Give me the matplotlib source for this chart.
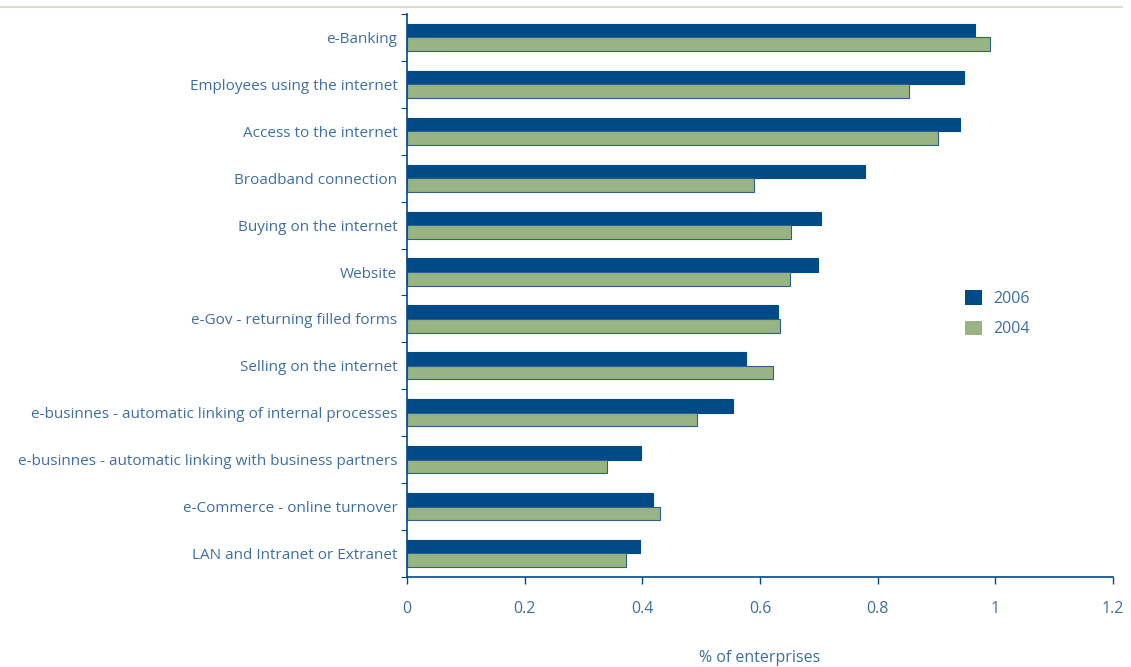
import numpy as np
import matplotlib.pyplot as plt
from matplotlib.lines import Line2D

categories = [
    'e-Banking',
    'Employees using the internet',
    'Access to the internet',
    'Broadband connection',
    'Buying on the internet',
    'Website',
    'e-Gov - returning filled forms',
    'Selling on the internet',
    'e-businnes - automatic linking of internal processes',
    'e-businnes - automatic linking with business partners',
    'e-Commerce - online turnover',
    'LAN and Intranet or Extranet',
]
vals_2006 = [0.965, 0.947, 0.940, 0.778, 0.704, 0.699, 0.631, 0.576, 0.554, 0.398, 0.418, 0.396]
vals_2004 = [0.991, 0.853, 0.903, 0.590, 0.653, 0.651, 0.634, 0.622, 0.493, 0.340, 0.430, 0.372]
xticks = [0, 0.2, 0.4, 0.6, 0.8, 1.0, 1.2]
xtick_labels = ['0', '0.2', '0.4', '0.6', '0.8', '1', '1.2']

blue = '#004a87'
green = '#98b482'
txt = '#3d6fa3'

plt.rcParams['font.family'] = ['Open Sans', 'DejaVu Sans']

def main():
    fig = plt.figure(figsize=(11.31, 6.67), dpi=100)
    ax = fig.add_axes([0.360, 0.135, 0.624, 0.844])

    n = len(categories)
    y = np.arange(n)
    h = 0.29
    ax.barh(y - h / 2, vals_2006, height=h, color=blue, edgecolor=blue, linewidth=0.8, label='2006')
    ax.barh(y + h / 2, vals_2004, height=h, color=green, edgecolor='#2e5f8e', linewidth=0.8, label='2004')

    ax.set_ylim(n - 0.5, -0.5)
    ax.set_xlim(0, 1.2)
    ax.set_yticks(y)
    ax.set_yticklabels(categories, color=txt, fontsize=11)
    ax.set_yticks(np.arange(n + 1) - 0.5, minor=True)
    ax.tick_params(axis='y', which='major', length=0, pad=7)
    ax.tick_params(axis='y', which='minor', length=4, color=blue, width=0.8)
    ax.set_xticks(xticks)
    ax.set_xticklabels(xtick_labels, color=txt, fontsize=11.5)
    ax.tick_params(axis='x', length=5, color=blue, width=1, pad=12)

    for s in ['top', 'right']:
        ax.spines[s].set_visible(False)
    for s in ['left', 'bottom']:
        ax.spines[s].set_color(blue)
        ax.spines[s].set_linewidth(1.2)

    fig.text(760 / 1131, 1 - 658 / 667, '% of enterprises', color=txt, fontsize=11.5,
             ha='center', va='center')

    leg = ax.legend(loc='upper left', bbox_to_anchor=(0.77, 0.535), frameon=False,
                    fontsize=11.5, handlelength=1.05, handleheight=1.05, labelspacing=0.85,
                    handletextpad=0.75)
    for t in leg.get_texts():
        t.set_color(txt)
    for p in leg.get_patches():
        p.set_edgecolor('none')

    fig.add_artist(Line2D([0, 0.992], [0.9895, 0.9895], transform=fig.transFigure,
                          color='#d8e0cc', linewidth=1.5))

    fig.savefig('out.png', dpi=100)

if __name__ == "__main__":
    main()
